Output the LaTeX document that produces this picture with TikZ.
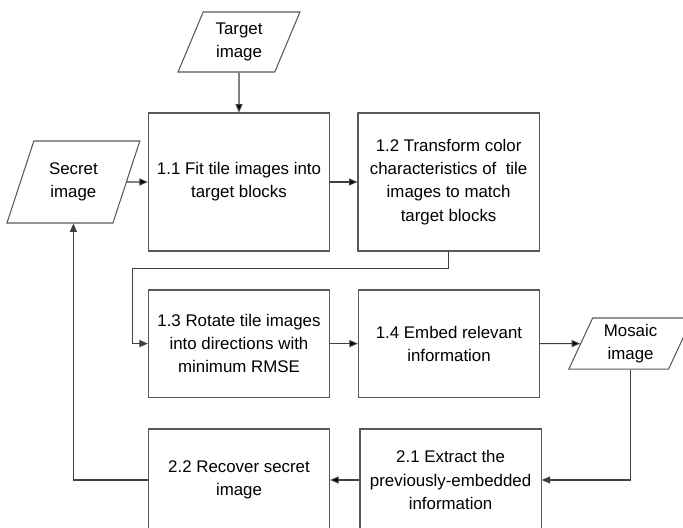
\documentclass[tikz,border=0pt]{standalone}
\usepackage{fontspec}
\setmainfont{Liberation Sans}
\usetikzlibrary{positioning,shapes.geometric,arrows.meta}

\begin{document}
\begin{tikzpicture}[node distance=2cm,on grid,
    font=\fontsize{12}{16.5}\selectfont,
    proc/.style={draw=black!65,line width=0.75pt,rectangle,align=center,
        minimum width=4.53cm,minimum height=2.68cm,inner sep=2pt},
    io/.style={draw=black!65,line width=0.75pt,trapezium,align=center,
        trapezium left angle=67,trapezium right angle=113,
        trapezium stretches=true,inner sep=1pt},
    arr/.style={draw=black!75,line width=0.75pt,-{Triangle[length=6pt,width=5pt]}}]
    \useasboundingbox (-5.975,-8.65) rectangle (11.1,4.55);

    \node[proc,minimum height=3.45cm] (fit) at (0,0) {1.1 Fit tile images into\\target blocks};
    \node[proc,minimum height=3.45cm] [right=5.24cm of fit] (transform)
        {1.2 Transform color\\characteristics of\ \ tile\\images to match\\target blocks};
    \node[io,minimum width=3.05cm,minimum height=1.5cm] [above=3.5cm of fit] (target) {Target\\image};
    \node[io,minimum width=3.33cm,minimum height=2.05cm] [left=4.14cm of fit] (secret) {Secret\\image};
    \node[proc] [below=4.04cm of fit] (rotate) {1.3 Rotate tile images\\into directions with\\minimum RMSE};
    \node[proc] [right=5.25cm of rotate] (embed) {1.4 Embed relevant\\information};
    \node[io,minimum width=3.1cm,minimum height=1.28cm] [right=4.54cm of embed] (mosaic) {Mosaic\\image};
    \node[proc,minimum height=2.55cm] [below=3.41cm of rotate] (recover) {2.2 Recover secret\\image};
    \node[proc,minimum height=2.55cm] [right=5.29cm of recover] (extract)
        {2.1 Extract the\\previously-embedded\\information};
    \coordinate[left=0.375cm of rotate.west] (bend);

    \path[arr]
    (target) edge (fit)
    (secret) edge (fit)
    (fit) edge (transform)
    (rotate) edge (embed)
    (embed) edge (mosaic)
    (extract) edge (recover)
    ;
    \draw[arr] (transform.south) -- ++(0,-0.42) -| (bend) -- (rotate.west);
    \draw[arr] (mosaic) |- (extract);
    \draw[arr] (recover) -| (secret);
\end{tikzpicture}
\end{document}
